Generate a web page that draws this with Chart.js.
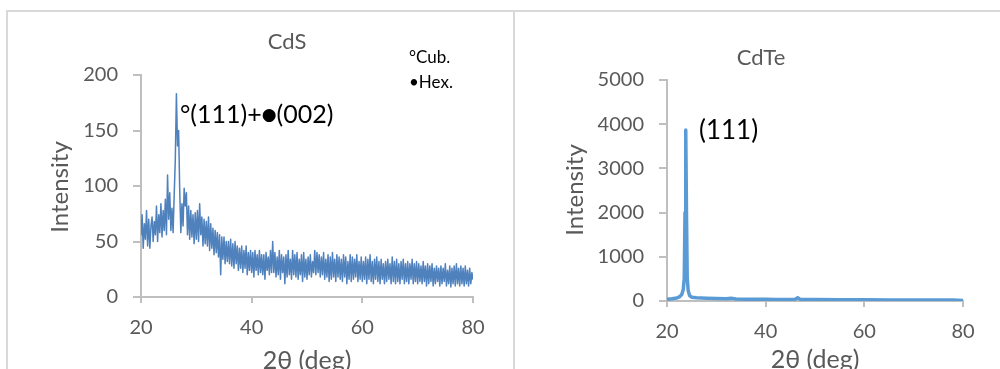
<!DOCTYPE html>
<html>
<head>
<meta charset="utf-8">
<script src="https://cdn.jsdelivr.net/npm/chart.js@4.4.0/dist/chart.umd.min.js"></script>
<style>
  html, body { margin: 0; padding: 0; background: #fff; width: 1000px; height: 369px; overflow: hidden; }
  .ln { position: absolute; background: #d9d9d9; }
  canvas { position: absolute; top: 0; }
</style>
</head>
<body>
<div class="ln" style="left:6px;top:10px;width:994px;height:2px;"></div>
<div class="ln" style="left:6px;top:10px;width:2px;height:359px;"></div>
<div class="ln" style="left:513px;top:10px;width:2px;height:359px;"></div>
<canvas id="cds" width="512" height="369" style="left:0px;width:512px;height:369px;"></canvas>
<canvas id="cdte" width="485" height="369" style="left:515px;width:485px;height:369px;"></canvas>
<script>
// ---------- DATA ----------
const xTicks = [20, 40, 60, 80];
const cdsYTicks = [0, 50, 100, 150, 200];
const cdteYTicks = [0, 1000, 2000, 3000, 4000, 5000];

const cdsAngle = [
  20,20.2,20.4,20.6,20.8,21,21.2,21.4,21.6,21.8,
  22,22.2,22.4,22.6,22.8,23,23.2,23.4,23.6,23.8,
  24,24.2,24.4,24.6,24.8,25,25.2,25.4,25.6,25.8,
  26,26.2,26.4,26.6,26.8,27,27.2,27.4,27.6,27.8,
  28,28.2,28.4,28.6,28.8,29,29.2,29.4,29.6,29.8,
  30,30.2,30.4,30.6,30.8,31,31.2,31.4,31.6,31.8,
  32,32.2,32.4,32.6,32.8,33,33.2,33.4,33.6,33.8,
  34,34.2,34.4,34.6,34.8,35,35.2,35.4,35.6,35.8,
  36,36.2,36.4,36.6,36.8,37,37.2,37.4,37.6,37.8,
  38,38.2,38.4,38.6,38.8,39,39.2,39.4,39.6,39.8,
  40,40.2,40.4,40.6,40.8,41,41.2,41.4,41.6,41.8,
  42,42.2,42.4,42.6,42.8,43,43.2,43.4,43.6,43.8,
  44,44.2,44.4,44.6,44.8,45,45.2,45.4,45.6,45.8,
  46,46.2,46.4,46.6,46.8,47,47.2,47.4,47.6,47.8,
  48,48.2,48.4,48.6,48.8,49,49.2,49.4,49.6,49.8,
  50,50.2,50.4,50.6,50.8,51,51.2,51.4,51.6,51.8,
  52,52.2,52.4,52.6,52.8,53,53.2,53.4,53.6,53.8,
  54,54.2,54.4,54.6,54.8,55,55.2,55.4,55.6,55.8,
  56,56.2,56.4,56.6,56.8,57,57.2,57.4,57.6,57.8,
  58,58.2,58.4,58.6,58.8,59,59.2,59.4,59.6,59.8,
  60,60.2,60.4,60.6,60.8,61,61.2,61.4,61.6,61.8,
  62,62.2,62.4,62.6,62.8,63,63.2,63.4,63.6,63.8,
  64,64.2,64.4,64.6,64.8,65,65.2,65.4,65.6,65.8,
  66,66.2,66.4,66.6,66.8,67,67.2,67.4,67.6,67.8,
  68,68.2,68.4,68.6,68.8,69,69.2,69.4,69.6,69.8,
  70,70.2,70.4,70.6,70.8,71,71.2,71.4,71.6,71.8,
  72,72.2,72.4,72.6,72.8,73,73.2,73.4,73.6,73.8,
  74,74.2,74.4,74.6,74.8,75,75.2,75.4,75.6,75.8,
  76,76.2,76.4,76.6,76.8,77,77.2,77.4,77.6,77.8,
  78,78.2,78.4,78.6,78.8,79,79.2,79.4,79.6,79.8,
  80
];
const cdsIntensity = [
  56,74,44,66,52,78,46,70,44,64,
  72,50,68,56,82,50,74,58,84,54,
  78,60,88,56,110,70,94,60,80,58,
  92,124,183,136,150,96,58,84,64,98,
  82,94,56,82,52,78,54,74,48,76,
  52,78,50,84,56,72,46,70,48,68,
  46,72,42,66,44,62,38,60,40,58,
  36,56,20,54,34,54,30,50,32,50,
  30,52,28,48,26,50,30,46,24,44,
  26,46,22,42,26,46,20,40,24,42,
  22,40,18,42,24,38,20,42,22,38,
  20,38,16,40,24,36,20,42,22,50,
  22,40,18,36,20,42,16,38,22,36,
  12,38,18,42,20,34,16,42,20,38,
  18,40,16,34,20,38,14,40,18,34,
  16,36,20,38,18,32,22,42,20,40,
  22,38,18,36,20,40,16,34,18,38,
  14,36,16,40,18,34,14,38,18,36,
  16,34,14,38,18,36,12,32,16,38,
  14,36,16,34,18,38,14,32,16,36,
  14,32,16,36,12,34,16,38,14,32,
  12,34,16,36,14,32,12,34,16,30,
  12,32,14,34,16,30,12,36,14,32,
  12,34,14,30,12,32,16,34,12,30,
  14,32,12,30,16,34,12,30,14,32,
  12,30,14,28,12,32,14,28,10,30,
  12,28,14,30,10,26,12,28,14,26,
  10,28,12,26,14,30,10,24,12,28,
  9,26,12,28,10,30,12,26,10,28,
  12,26,10,28,12,24,10,26,12,22,
  16
];

const cdteAngle = [20, 21, 22, 22.6, 23, 23.3, 23.5, 23.65, 23.8, 23.95, 24.1, 24.3, 24.6, 25, 26, 28, 30, 32, 33, 34, 36, 38, 40, 42, 44, 46, 46.5, 47, 50, 55, 60, 65, 70, 75, 78, 80];
const cdteIntensity = [40, 50, 70, 100, 150, 260, 520, 2000, 3870, 2000, 520, 230, 120, 85, 75, 65, 58, 52, 60, 46, 42, 40, 42, 36, 36, 38, 75, 36, 32, 28, 26, 25, 22, 22, 25, 12];

// ---------- HELPERS ----------
const TICK_COLOR = '#595959';
const AXIS_COLOR = '#bfbfbf';
const FONT = 'Lato, "Open Sans", sans-serif';

const textPlugin = {
  id: 'texts',
  afterDraw(chart, args, opts) {
    const ctx = chart.ctx;
    (opts.items || []).forEach(it => {
      let x = it.x, y = it.y;
      if (it.dx !== undefined) x = chart.scales.x.getPixelForValue(it.dx);
      if (it.dy !== undefined) y = chart.scales.y.getPixelForValue(it.dy);
      ctx.save();
      ctx.fillStyle = it.color;
      ctx.textBaseline = 'middle';
      ctx.translate(x, y);
      if (it.rot) ctx.rotate(it.rot);
      if (it.parts) {
        ctx.textAlign = 'left';
        let cx = 0;
        it.parts.forEach(p => {
          ctx.font = p.font;
          ctx.fillText(p.text, cx, p.dy || 0);
          cx += ctx.measureText(p.text).width;
        });
      } else {
        ctx.font = it.font;
        ctx.textAlign = it.align || 'center';
        ctx.fillText(it.text, 0, 0);
      }
      ctx.restore();
    });
  }
};

function makeChart(id, pts, color, width, yMax, yTickList, pad, yAxisWidth, xAxisHeight, texts) {
  return new Chart(document.getElementById(id), {
    type: 'line',
    data: { datasets: [{ data: pts, borderColor: color, borderWidth: width, pointRadius: 0, tension: 0, fill: false, borderJoinStyle: 'round', borderCapStyle: 'round' }] },
    options: {
      responsive: false, animation: false, devicePixelRatio: 1,
      layout: { padding: pad },
      plugins: { legend: { display: false }, tooltip: { enabled: false }, title: { display: false }, texts: { items: texts } },
      scales: {
        x: {
          type: 'linear', min: xTicks[0], max: xTicks[xTicks.length - 1],
          afterFit: s => { s.height = xAxisHeight; },
          afterBuildTicks: s => { s.ticks = xTicks.map(v => ({ value: v })); },
          grid: { drawOnChartArea: false, drawTicks: true, tickLength: 6, color: AXIS_COLOR, lineWidth: 2 },
          border: { color: AXIS_COLOR, width: 2 },
          ticks: { color: TICK_COLOR, font: { family: FONT, size: 20 }, padding: 13, maxRotation: 0, callback: v => String(v) }
        },
        y: {
          type: 'linear', min: 0, max: yMax,
          afterFit: s => { s.width = yAxisWidth; },
          afterBuildTicks: s => { s.ticks = yTickList.map(v => ({ value: v })); },
          grid: { drawOnChartArea: false, drawTicks: true, tickLength: 8, color: AXIS_COLOR, lineWidth: 2 },
          border: { color: AXIS_COLOR, width: 2 },
          ticks: { color: TICK_COLOR, font: { family: FONT, size: 20 }, padding: 15, callback: v => String(v) }
        }
      }
    },
    plugins: [textPlugin]
  });
}

const cdsPts = cdsAngle.map((a, i) => ({ x: a, y: cdsIntensity[i] }));
const cdtePts = cdteAngle.map((a, i) => ({ x: a, y: cdteIntensity[i] }));

makeChart('cds', cdsPts, '#4f81bd', 1.5, 200, cdsYTicks,
  { left: 0, top: 75, right: 39, bottom: 0 }, 141, 72, [
    { text: 'CdS', x: 287, y: 42, font: '22px ' + FONT, color: TICK_COLOR },
    { text: 'Intensity', x: 60, y: 187, rot: -Math.PI / 2, font: '24px ' + FONT, color: TICK_COLOR },
    { text: '2θ (deg)', x: 307, y: 361, font: '25px ' + FONT, color: TICK_COLOR },
    { dx: 27.05, dy: 164, color: '#000', parts: [
      { text: '°(111)+', font: '25px ' + FONT },
      { text: '●', font: '17px "DejaVu Sans", sans-serif', dy: 1 },
      { text: '(002)', font: '25px ' + FONT }
    ] },
    { text: '°Cub.', x: 409, y: 58, align: 'left', font: '17px ' + FONT, color: '#000' },
    { text: '•Hex.', x: 409, y: 83, align: 'left', font: '17px ' + FONT, color: '#000' }
  ]);

makeChart('cdte', cdtePts, '#5b9bd5', 3.5, 5000, cdteYTicks,
  { left: 0, top: 80, right: 37, bottom: 0 }, 152, 68, [
    { text: 'CdTe', x: 246, y: 58, font: '22px ' + FONT, color: TICK_COLOR },
    { text: 'Intensity', x: 60, y: 190, rot: -Math.PI / 2, font: '24px ' + FONT, color: TICK_COLOR },
    { text: '2θ (deg)', x: 300, y: 360, font: '25px ' + FONT, color: TICK_COLOR },
    { text: '(111)', dx: 26.49, dy: 3846, align: 'left', font: '26px ' + FONT, color: '#000' }
  ]);
</script>
</body>
</html>
